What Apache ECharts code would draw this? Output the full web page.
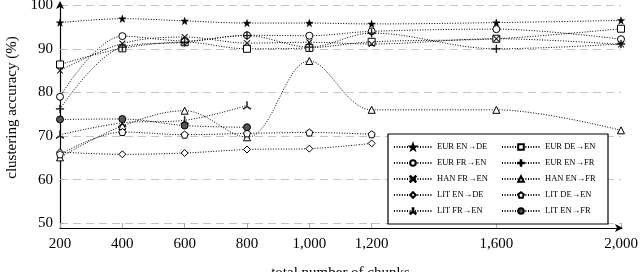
<!DOCTYPE html>
<html>
<head>
<meta charset="utf-8">
<script src="https://cdn.jsdelivr.net/npm/echarts@6/dist/echarts.min.js"></script>
<style>html,body{margin:0;padding:0;background:#fff;}#c{width:640px;height:272px;}</style>
</head>
<body>
<div id="c"></div>
<script>
// ---- data ----
const chunks = [200, 400, 600, 800, 1000, 1200, 1600, 2000];
const xTicks = [200, 400, 600, 800, 1000, 1200, 1600, 2000];
const yTicks = [50, 60, 70, 80, 90, 100];
const seriesNames = ['EUR EN\u2192DE', 'EUR DE\u2192EN', 'EUR FR\u2192EN', 'EUR EN\u2192FR', 'HAN FR\u2192EN',
                     'HAN EN\u2192FR', 'LIT EN\u2192DE', 'LIT DE\u2192EN', 'LIT FR\u2192EN', 'LIT EN\u2192FR'];
const eurEnDe = [96.0, 96.9, 96.4, 95.9, 95.9, 95.7, 96.0, 96.5];
const eurDeEn = [86.4, 90.1, 91.5, 90.0, 90.2, 91.6, 92.3, 94.6];
const eurFrEn = [79.0, 92.9, 91.8, 93.1, 93.0, 94.0, 94.5, 92.2];
const eurEnFr = [76.2, 90.4, 91.5, 93.0, 90.4, 93.6, 90.0, 91.1];
const hanFrEn = [85.0, 91.2, 92.7, 91.3, 91.5, 91.1, 92.3, 91.0];
const hanEnFr = [65.1, 72.3, 75.8, 69.7, 87.2, 76.0, 76.0, 71.3];
const litEnDe = [66.3, 65.8, 66.1, 66.9, 67.1, 68.3];
const litDeEn = [65.8, 70.9, 70.3, 70.6, 70.8, 70.4];
const litFrEn = [70.3, 73.0, 73.6, 77.0];
const litEnFr = [73.8, 73.9, 72.4, 72.0];
const allValues = [eurEnDe, eurDeEn, eurFrEn, eurEnFr, hanFrEn, hanEnFr, litEnDe, litDeEn, litFrEn, litEnFr];

// ---- symbols ----
const SYM = {
  star: 'path://M0,-10 L2.35,-3.24 L9.51,-3.09 L3.8,1.24 L5.88,8.09 L0,4 L-5.88,8.09 L-3.8,1.24 L-9.51,-3.09 L-2.35,-3.24 Z',
  plus: 'path://M-1,-10 L1,-10 L1,-1 L10,-1 L10,1 L1,1 L1,10 L-1,10 L-1,1 L-10,1 L-10,-1 L-1,-1 Z',
  cross: 'path://M-8.5,-10 L0,-1.5 L8.5,-10 L10,-8.5 L1.5,0 L10,8.5 L8.5,10 L0,1.5 L-8.5,10 L-10,8.5 L-1.5,0 L-10,-8.5 Z',
  pent: 'path://M0,-10 L9.5,-3.1 L5.9,8.1 L-5.9,8.1 L-9.5,-3.1 Z',
  tri3: 'path://M-1,-10 L1,-10 L1,-0.6 L9.2,4.1 L8.2,5.9 L0,1.2 L-8.2,5.9 L-9.2,4.1 L-1,-0.6 Z'
};
const styles = [
  {symbol: SYM.star, fill: '#000', size: 7.5},
  {symbol: 'rect', fill: '#fff', size: 7},
  {symbol: 'circle', fill: '#fff', size: 7},
  {symbol: SYM.plus, fill: '#000', size: 8},
  {symbol: SYM.cross, fill: '#000', size: 6},
  {symbol: 'triangle', fill: '#fff', size: 7},
  {symbol: 'diamond', fill: '#fff', size: 7},
  {symbol: SYM.pent, fill: '#fff', size: 7},
  {symbol: SYM.tri3, fill: '#000', size: 8},
  {symbol: 'circle', fill: '#555', size: 7}
];

const FONT = 'Liberation Serif';
const series = seriesNames.map((name, i) => ({
  name: name,
  type: 'line',
  smooth: 0.35,
  data: allValues[i].map((v, j) => [chunks[j], v]),
  symbol: styles[i].symbol,
  symbolSize: styles[i].size,
  showAllSymbol: true,
  lineStyle: {color: '#000', width: 1, type: [1, 1.6]},
  itemStyle: {color: styles[i].fill, borderColor: '#000', borderWidth: styles[i].fill === '#fff' || i === 9 ? 1 : 0.4},
  emphasis: {disabled: true},
  z: 3
}));

const chart = echarts.init(document.getElementById('c'), null, {renderer: 'canvas'});
chart.setOption({
  animation: false,
  backgroundColor: '#fff',
  textStyle: {fontFamily: FONT, color: '#000'},
  grid: {left: 60, right: 19, top: 3, bottom: 44, containLabel: false, outerBoundsMode: 'none'},
  xAxis: {
    type: 'value', min: 200, max: 2000,
    name: 'total number of chunks', nameLocation: 'middle', nameGap: 38,
    nameTextStyle: {fontFamily: FONT, fontSize: 15, color: '#000'},
    axisLine: {lineStyle: {color: '#000', width: 1.2}, symbol: ['none', 'arrow'], symbolSize: [6, 8], symbolOffset: [0, 2]},
    axisTick: {show: true, inside: true, length: 5, lineStyle: {color: '#aaa'}, customValues: xTicks},
    axisLabel: {customValues: xTicks, fontFamily: FONT, fontSize: 15, color: '#000', margin: 9,
      formatter: v => v.toLocaleString('en-US')},
    splitLine: {show: false}
  },
  yAxis: {
    type: 'value', min: 48.9, max: 100.5,
    name: 'clustering accuracy (%)', nameLocation: 'middle', nameGap: 38,
    nameTextStyle: {fontFamily: FONT, fontSize: 15, color: '#000', padding: [0, 0, 0, 16]},
    axisLine: {show: true, lineStyle: {color: '#000', width: 1.2}, symbol: ['none', 'arrow'], symbolSize: [6, 8], symbolOffset: [0, 2]},
    axisTick: {show: true, inside: true, length: 4, lineStyle: {color: '#aaa'}, customValues: yTicks},
    axisLabel: {customValues: yTicks, fontFamily: FONT, fontSize: 15, color: '#000', margin: 7},
    splitLine: {show: true, lineStyle: {color: '#c4c4c4', width: 1, type: [8, 5]}}
  },
  legend: {
    data: seriesNames,
    orient: 'horizontal',
    left: 388, top: 134, width: 218,
    padding: [8, 5, 8, 5],
    itemWidth: 38, itemHeight: 7, itemGap: 6,
    borderColor: '#000', borderWidth: 1.2, backgroundColor: '#fff',
    textStyle: {fontFamily: FONT, fontSize: 8.5, lineHeight: 10, color: '#000', width: 58},
    selectedMode: false
  },
  series: series
});
</script>
</body>
</html>
